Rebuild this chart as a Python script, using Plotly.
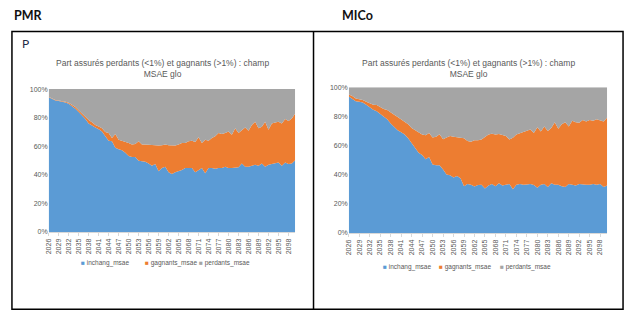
import plotly.graph_objects as go

W, H = 630, 321

years = list(range(2026, 2101))
tick_years = list(range(2026, 2099, 3))
y_ticks = [0, 20, 40, 60, 80, 100]

# PMR scenario (shares in %)
pmr_inchang = [
    94.3, 93.0, 92.0, 91.6, 91.3, 90.6, 89.7, 88.2, 86.3, 84.0,
    81.7, 79.0, 76.0, 74.8, 73.1, 71.8, 70.3, 66.9, 63.9, 63.5,
    58.9, 57.8, 57.1, 55.5, 53.2, 52.5, 52.5, 49.8, 49.3, 49.1,
    47.9, 46.3, 47.5, 42.5, 44.7, 45.7, 41.8, 40.6, 41.8, 42.5,
    43.4, 44.7, 44.7, 44.7, 41.8, 43.4, 44.7, 41.1, 44.7, 44.7,
    44.3, 44.7, 44.7, 45.7, 44.7, 44.7, 45.2, 45.2, 47.9, 45.7,
    45.7, 46.3, 47.0, 46.3, 47.9, 45.7, 47.0, 47.5, 47.9, 48.6,
    46.3, 48.6, 47.5, 47.9, 50.2,
]
pmr_gagnants = [
    0.3, 0.4, 0.4, 0.5, 0.6, 0.6, 0.7, 0.9, 1.1, 1.2,
    1.2, 1.8, 2.3, 2.0, 1.8, 2.0, 2.3, 3.0, 5.3, 2.3,
    9.6, 6.8, 6.8, 8.0, 9.1, 8.7, 9.1, 13.7, 11.9, 12.1,
    13.1, 14.4, 13.5, 18.0, 16.0, 15.5, 18.9, 20.1, 18.7, 18.7,
    18.9, 17.6, 18.8, 19.2, 21.2, 22.8, 17.6, 23.5, 19.2, 21.1,
    22.6, 24.5, 23.8, 23.5, 25.6, 23.3, 27.4, 24.0, 23.6, 27.4,
    25.1, 28.6, 30.2, 26.3, 25.8, 31.5, 24.5, 28.5, 28.8, 28.6,
    29.7, 30.4, 30.1, 31.6, 32.7,
]

# MICo scenario (shares in %)
mico_inchang = [
    93.5, 92.0, 90.4, 90.0, 89.4, 88.0, 86.2, 84.5, 83.5, 81.5,
    79.8, 78.0, 75.0, 72.5, 70.5, 69.0, 67.5, 65.0, 61.5, 58.0,
    55.0, 53.5, 50.5, 52.0, 47.0, 46.5, 46.4, 43.5, 40.0, 39.5,
    38.0, 39.0, 37.5, 32.0, 33.5, 33.0, 31.8, 32.8, 33.0, 30.5,
    32.5, 33.5, 32.0, 34.0, 32.5, 33.0, 33.5, 30.0, 33.0, 33.5,
    33.0, 33.2, 33.5, 32.8, 31.0, 33.0, 33.5, 31.5, 34.0, 33.0,
    33.0, 32.0, 31.5, 33.5, 33.0, 32.5, 33.5, 33.0, 33.0, 33.0,
    33.5, 33.0, 33.5, 31.5, 32.5,
]
mico_gagnants = [
    1.4, 2.0, 1.8, 1.8, 1.8, 2.0, 2.8, 3.5, 4.2, 5.0,
    5.2, 6.4, 7.5, 8.5, 9.0, 9.0, 8.5, 9.5, 10.5, 12.5,
    14.5, 14.0, 16.5, 16.5, 18.5, 19.5, 21.2, 20.8, 25.5, 27.0,
    28.0, 26.5, 28.0, 33.0, 29.5, 29.5, 31.8, 30.7, 31.0, 35.5,
    35.0, 34.5, 35.5, 33.8, 34.5, 33.5, 30.5, 35.2, 34.5, 35.0,
    36.2, 36.8, 37.5, 35.7, 41.5, 36.5, 39.5, 38.5, 38.0, 42.9,
    38.5, 42.5, 44.5, 39.5, 44.0, 43.5, 42.0, 44.5, 43.5, 44.5,
    43.5, 45.0, 44.0, 45.0, 46.7,
]

series_names = ["inchang_msae", "gagnants_msae", "perdants_msae"]
series_colors = ["#5b9bd5", "#ed7d31", "#a5a5a5"]

chart_title = "Part assurés perdants (<1%) et gagnants (>1%) : champ<br>MSAE glo"

FONT = "Liberation Sans"
TXT = "#595959"


def px_x(x):
    return x / W


def px_y(y):
    return 1 - y / H


fig = go.Figure()


def add_panel(inchang, gagnants, xa, ya):
    perdants = [100 - a - b for a, b in zip(inchang, gagnants)]
    for name, vals, col in zip(series_names, [inchang, gagnants, perdants], series_colors):
        fig.add_trace(go.Scatter(
            x=years, y=vals, name=name, mode="lines",
            line=dict(width=0, color=col), fillcolor=col,
            stackgroup="s" + xa, xaxis=xa, yaxis=ya,
            showlegend=False, hoverinfo="x+y+name",
        ))


add_panel(pmr_inchang, pmr_gagnants, "x", "y")
add_panel(mico_inchang, mico_gagnants, "x2", "y2")

xaxis_common = dict(
    range=[2026, 2100], tickmode="array", tickvals=tick_years,
    ticktext=[str(y) for y in tick_years], tickangle=-90,
    tickfont=dict(family=FONT, size=7, color=TXT),
    ticks="outside", ticklen=3, tickcolor="#d9d9d9",
    showline=True, linecolor="#d9d9d9", linewidth=1,
    showgrid=False, zeroline=False, fixedrange=True,
)
yaxis_common = dict(
    range=[0, 100], tickmode="array", tickvals=y_ticks,
    ticktext=[f"{v}%" for v in y_ticks],
    tickfont=dict(family=FONT, size=7, color=TXT),
    showgrid=False, zeroline=False, showline=False, ticks="",
    fixedrange=True,
)

fig.update_layout(
    width=W, height=H,
    margin=dict(l=0, r=0, t=0, b=0),
    paper_bgcolor="white", plot_bgcolor="white",
    xaxis=dict(domain=[px_x(45), px_x(293)], anchor="y", **xaxis_common),
    yaxis=dict(domain=[px_y(233), px_y(87)], anchor="x", **yaxis_common),
    xaxis2=dict(domain=[px_x(347), px_x(607)], anchor="y2", **xaxis_common),
    yaxis2=dict(domain=[px_y(234), px_y(85)], anchor="x2", **yaxis_common),
    showlegend=False,
)

# Table frame around the two panels
frame = dict(type="line", xref="paper", yref="paper", line=dict(color="black", width=1.5))
fig.add_shape(type="rect", xref="paper", yref="paper",
              x0=px_x(8), x1=px_x(623), y0=px_y(312), y1=px_y(28),
              line=dict(color="black", width=1.5))
fig.add_shape(x0=px_x(311.5), x1=px_x(311.5), y0=px_y(312), y1=px_y(28), **frame)

annotations = []


def text(x, y, s, size, color, xanchor="center", family=FONT):
    annotations.append(dict(
        x=px_x(x), y=px_y(y), xref="paper", yref="paper", text=s,
        showarrow=False, xanchor=xanchor, yanchor="middle",
        font=dict(family=family, size=size, color=color), align="center",
    ))


# Headers
text(8, 12, "<b>PMR</b>", 12.5, "#111111", xanchor="left", family="Lato")
text(338, 12, "<b>MICo</b>", 12.5, "#111111", xanchor="left", family="Lato")
text(16, 40, "P", 12, "#1f2a44", xanchor="left", family="Lato")

# Chart titles
text(160, 66, chart_title, 8.5, TXT)
text(467, 66, chart_title, 8.5, TXT)


def legend_row(xs, y):
    for x, name, col in zip(xs, series_names, series_colors):
        text(x, y, f'<span style="color:{col}">■</span> {name}', 6.5, TXT, xanchor="left")


legend_row([75, 140, 194], 265)
legend_row([379, 436, 497], 269)

fig.update_layout(annotations=annotations)

fig.write_html("out.html")
